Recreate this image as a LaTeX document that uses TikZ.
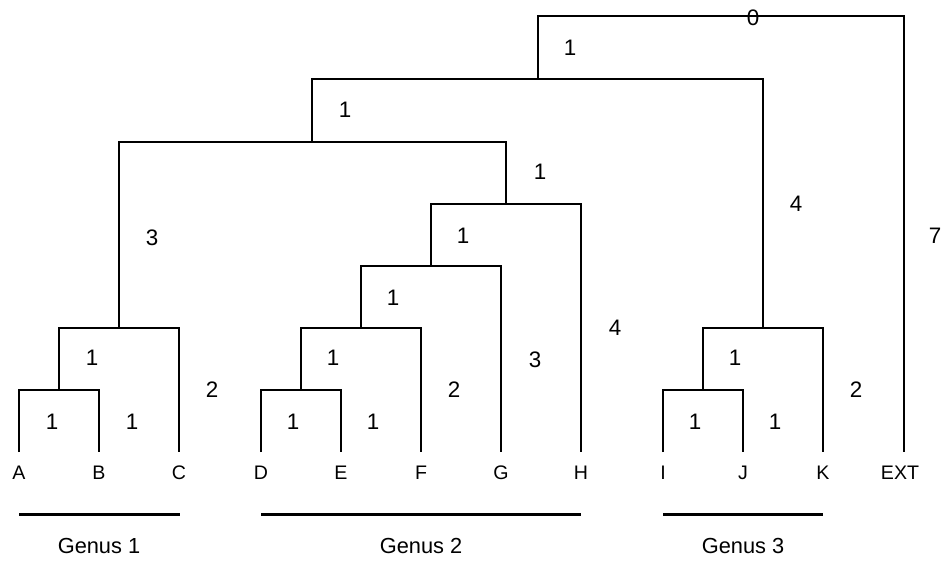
\documentclass[tikz,border=0pt]{standalone}
\usepackage{fontspec}
\setmainfont{Liberation Sans}

\begin{document}
\begin{tikzpicture}[x=0.5pt,y=-0.5pt]
      \tikzstyle{every node}+=[inner sep=0pt]
      \tikzstyle{branch}=[black, line width=0.7pt]
      \tikzstyle{bar}=[black, line width=1.5pt]
      \tikzstyle{len}=[font=\fontsize{11.2}{13}\selectfont]
      \tikzstyle{taxon}=[font=\fontsize{9.8}{11}\selectfont]
      \tikzstyle{genus}=[font=\fontsize{10.9}{12}\selectfont]
      \useasboundingbox (0,0) rectangle (947,561);
      % leaf tips
      \coordinate (A) at (19,452);
      \coordinate (B) at (99,452);
      \coordinate (C) at (179,452);
      \coordinate (D) at (261,452);
      \coordinate (E) at (341,452);
      \coordinate (F) at (421,452);
      \coordinate (G) at (501,452);
      \coordinate (H) at (581,452);
      \coordinate (I) at (663,452);
      \coordinate (J) at (743,452);
      \coordinate (K) at (823,452);
      \coordinate (EXT) at (904,452);
      % leaf names
      \node[taxon] (nA) at (19,473) {A};
      \node[taxon] (nB) at (99,473) {B};
      \node[taxon] (nC) at (179,473) {C};
      \node[taxon] (nD) at (261,473) {D};
      \node[taxon] (nE) at (341,473) {E};
      \node[taxon] (nF) at (421,473) {F};
      \node[taxon] (nG) at (501,473) {G};
      \node[taxon] (nH) at (581,473) {H};
      \node[taxon] (nI) at (663,473) {I};
      \node[taxon] (nJ) at (743,473) {J};
      \node[taxon] (nK) at (823,473) {K};
      \node[taxon] (nEXT) at (900,473) {EXT};
      % internal nodes
      \coordinate (AB) at (59,390);
      \coordinate (AC) at (119,328);
      \coordinate (DE) at (301,390);
      \coordinate (DF) at (361,328);
      \coordinate (DG) at (431,266);
      \coordinate (DH) at (506,204);
      \coordinate (AH) at (312,142);
      \coordinate (IJ) at (703,390);
      \coordinate (IK) at (763,328);
      \coordinate (AK) at (538,79);
      \coordinate (root) at (721,16);
      % branches
      \draw[branch] (A) |- (AB) -| (B);
      \draw[branch] (AB) |- (AC) -| (C);
      \draw[branch] (D) |- (DE) -| (E);
      \draw[branch] (DE) |- (DF) -| (F);
      \draw[branch] (DF) |- (DG) -| (G);
      \draw[branch] (DG) |- (DH) -| (H);
      \draw[branch] (AC) |- (AH) -| (DH);
      \draw[branch] (I) |- (IJ) -| (J);
      \draw[branch] (IJ) |- (IK) -| (K);
      \draw[branch] (AH) |- (AK) -| (IK);
      \draw[branch] (AK) |- (root) -| (EXT);
      % branch lengths
      \node[len] (l0) at (753,18) {0};
      \node[len] (l1) at (570,48) {1};
      \node[len] (l2) at (345,110) {1};
      \node[len] (l3) at (152,238) {3};
      \node[len] (l4) at (540,172) {1};
      \node[len] (l5) at (463,236) {1};
      \node[len] (l6) at (393,298) {1};
      \node[len] (l7) at (333,358) {1};
      \node[len] (l8) at (293,422) {1};
      \node[len] (l9) at (373,422) {1};
      \node[len] (l10) at (454,390) {2};
      \node[len] (l11) at (535,360) {3};
      \node[len] (l12) at (615,328) {4};
      \node[len] (l13) at (92,358) {1};
      \node[len] (l14) at (52,422) {1};
      \node[len] (l15) at (132,422) {1};
      \node[len] (l16) at (212,390) {2};
      \node[len] (l17) at (796,204) {4};
      \node[len] (l18) at (935,236) {7};
      \node[len] (l19) at (735,358) {1};
      \node[len] (l20) at (695,422) {1};
      \node[len] (l21) at (775,422) {1};
      \node[len] (l22) at (856,390) {2};
      % genera
      \coordinate (g1a) at (19,514);
      \coordinate (g1b) at (180,514);
      \coordinate (g2a) at (261,514);
      \coordinate (g2b) at (581,514);
      \coordinate (g3a) at (663,514);
      \coordinate (g3b) at (823,514);
      \draw[bar] (g1a) -- (g1b);
      \draw[bar] (g2a) -- (g2b);
      \draw[bar] (g3a) -- (g3b);
      \node[genus] (gen1) at (99,546) {Genus 1};
      \node[genus] (gen2) at (421,546) {Genus 2};
      \node[genus] (gen3) at (743,546) {Genus 3};
\end{tikzpicture}
\end{document}
